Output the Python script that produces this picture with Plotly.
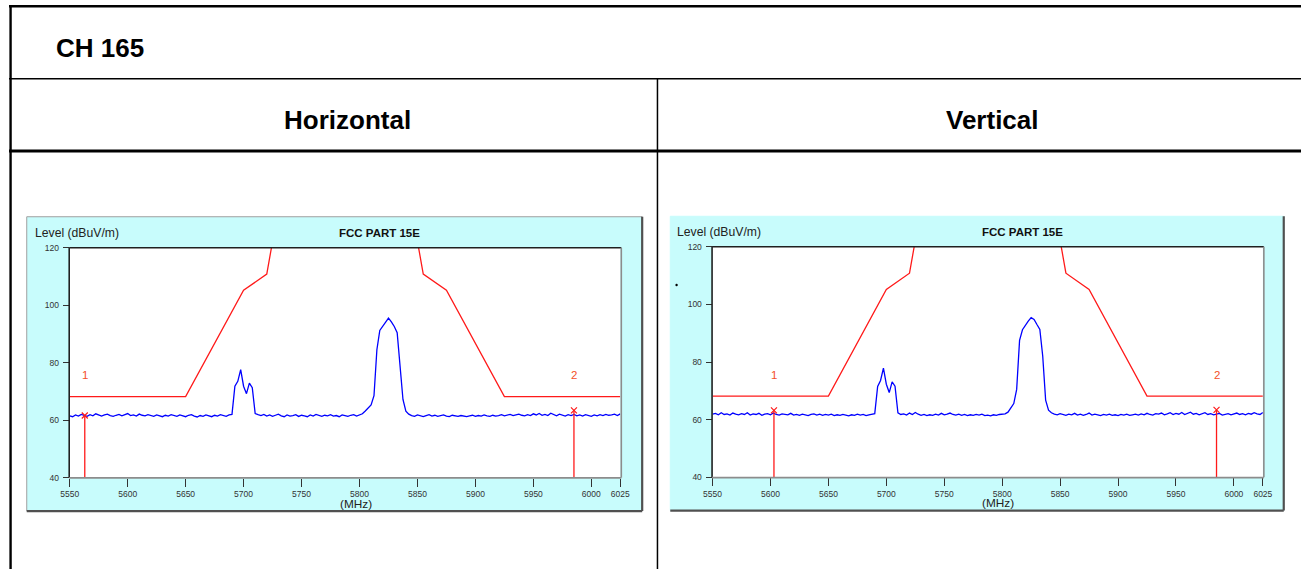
import plotly.graph_objects as go

W, H = 1311, 574

# ---------------- data ----------------
freqs = [5550 + 2.5 * i for i in range(191)]  # MHz grid of the sweep

h_level = [
    # 5550 - 5687.5
    61.5, 61.2, 61.8, 61.4, 62.0, 61.6, 61.3, 61.9, 61.5, 62.2, 61.7, 61.4, 61.8, 62.1, 61.6, 61.3, 61.7, 62.0, 61.5, 61.9,
    62.3, 61.6, 61.8, 61.4, 62.1, 61.7, 61.5, 61.9, 61.6, 61.3, 61.8, 61.5, 61.2, 61.7, 61.4, 61.9, 61.6, 61.3, 61.8, 61.5,
    61.2, 61.7, 61.9, 61.4, 61.1, 61.6, 61.3, 61.8, 61.5, 61.2, 61.7, 61.4, 61.9, 61.6, 61.3, 61.8,
    # 5690 - 5712.5
    62.0, 71.8, 73.5, 77.6, 71.8, 69.2, 72.9, 71.3, 62.3, 61.9,
    # 5715 - 5800
    61.6, 62.0, 61.4, 61.8, 61.3, 61.7, 62.1, 61.5, 61.2, 61.8, 61.4, 61.6, 61.9, 61.3, 61.7, 61.5, 61.2, 61.8, 61.4, 62.0,
    61.6, 61.3, 61.7, 61.5, 61.9, 61.4, 61.6, 61.2, 61.8, 61.5, 61.3, 61.7, 61.9, 61.4, 61.8,
    # 5802.5 - 5845
    62.2, 63.2, 64.2, 65.3, 68.5, 84.5, 91.2, 92.6, 94.4, 95.5, 94.2, 92.6, 90.4, 77.5, 67.2, 63.1, 62.1, 61.6,
    # 5847.5 - 6025
    61.3, 61.8, 61.5, 61.2, 61.6, 61.9, 61.4, 61.7, 61.3, 61.5, 61.8, 61.4, 61.2, 61.7, 61.5, 61.3, 61.6, 61.4, 61.2, 61.5,
    61.7, 61.3, 61.6, 61.4, 61.8, 61.5, 61.3, 61.7, 61.4, 61.6, 61.9, 61.5, 61.7, 62.0, 61.6, 61.8, 62.1, 61.7, 61.5, 61.9,
    61.6, 62.2, 61.8, 62.3, 61.7, 62.0, 61.6, 62.4, 61.9, 61.5, 62.1, 61.7, 61.4, 61.9, 61.6, 62.0, 61.5, 61.8, 61.4, 61.9,
    61.6, 61.3, 61.8, 61.5, 61.9, 61.6, 62.0, 61.7, 61.8, 62.1, 61.6, 62.2,
]

v_level = [
    # 5550 - 5687.5
    61.9, 62.2, 61.7, 62.4, 61.8, 62.0, 61.6, 62.3, 61.9, 61.7, 62.1, 61.8, 62.4, 61.6, 62.0, 61.8, 62.2, 61.5, 61.9, 62.1,
    61.7, 62.3, 61.8, 61.6, 62.0, 61.9, 61.7, 62.2, 61.6, 61.8, 61.5, 61.9, 61.7, 61.4, 61.8, 62.0, 61.6, 61.9, 61.5, 61.8,
    61.6, 61.9, 61.4, 61.7, 61.5, 61.8, 61.6, 61.3, 61.7, 61.5, 61.9, 61.6, 61.8, 61.4, 61.7, 62.0,
    # 5690 - 5712.5
    62.1, 71.5, 73.6, 77.9, 72.3, 69.4, 73.1, 71.6, 62.4, 61.8,
    # 5715 - 5800
    62.0, 61.6, 62.3, 61.8, 62.5, 61.9, 61.5, 61.8, 61.4, 61.7, 61.5, 61.9, 61.6, 62.2, 61.7, 61.9, 62.3, 61.8, 61.6, 61.9,
    61.5, 61.8, 61.4, 61.7, 61.5, 61.8, 61.6, 61.9, 61.4, 61.6, 61.3, 61.7, 61.5, 61.8, 62.0,
    # 5802.5 - 5845
    62.0, 62.6, 64.2, 65.6, 70.5, 87.5, 91.2, 92.8, 94.2, 95.4, 94.8, 93.0, 91.3, 82.0, 66.8, 63.3, 62.4, 61.9,
    # 5847.5 - 6025
    61.7, 62.1, 61.8, 61.5, 61.9, 61.7, 62.2, 61.6, 61.9, 61.5, 61.8, 62.3, 61.6, 61.9, 61.7, 61.4, 61.8, 61.6, 61.9, 61.5,
    61.7, 61.4, 61.8, 61.6, 61.9, 61.5, 61.7, 61.9, 61.6, 62.0, 61.7, 62.2, 61.8, 61.6, 62.1, 61.9, 62.3, 61.7, 62.0, 62.4,
    61.8, 62.2, 61.9, 62.5, 61.8, 62.1, 62.6, 61.9, 62.2, 61.7, 62.0, 62.4, 61.8, 62.1, 61.7, 61.9, 62.2, 61.6, 61.9, 62.1,
    61.7, 62.0, 62.3, 61.8, 62.1, 61.7, 62.2, 61.9, 62.4, 62.0, 61.8, 62.5,
]

limit_freq = [5550, 5650, 5700, 5720, 5725, 5850, 5855, 5875, 5925, 6025]
limit_level = [68.2, 68.2, 105.2, 110.8, 122.2, 122.2, 110.8, 105.2, 68.2, 68.2]

marker_names = ["1", "2"]
h_marker_freq = [5563, 5985]
h_marker_level = [61.6, 63.4]
v_marker_freq = [5603, 5985]
v_marker_level = [63.2, 63.4]

x_ticks = [5550, 5600, 5650, 5700, 5750, 5800, 5850, 5900, 5950, 6000, 6025]
y_ticks = [40, 60, 80, 100, 120]

header_text = "CH 165"
column_titles = ["Horizontal", "Vertical"]
chart_title = "FCC PART 15E"
y_title = "Level (dBuV/m)"
x_title = "(MHz)"

# ---------------- layout helpers ----------------
def px(x):
    return x / W


def py(y):
    return 1 - y / H


BLUE = "#0000FF"
RED = "#FF1A1A"
LABEL_RED = "#F4502A"
CYAN = "#C8FCFC"
FONT = "Arial, Liberation Sans, sans-serif"

panels = [
    dict(panel=(18, 215.5, 642.5, 515), plot=(61.6, 247, 620.3, 481),
         ytitle=(24.3, 231.7), title=(376, 232.3), xtitle=(352.5, 508), outline=True),
    dict(panel=(671, 215, 1293.5, 514.5), plot=(713.9, 246, 1272.3, 480.7),
         ytitle=(676, 230.7), title=(1028, 231), xtitle=(1004, 506.7), outline=False),
]

series = [
    (h_level, h_marker_freq, h_marker_level),
    (v_level, v_marker_freq, v_marker_level),
]

fig = go.Figure()
shapes = []
annotations = []


def line(x0, y0, x1, y1, color="black", width=1.5, layer="above"):
    shapes.append(dict(type="line", xref="paper", yref="paper",
                       x0=px(x0), y0=py(y0), x1=px(x1), y1=py(y1),
                       line=dict(color=color, width=width), layer=layer))


# ----- table grid -----
line(0, 1.2, W, 1.2, width=2.4)
line(1.6, 0, 1.6, H, width=2.4)
line(0, 75, W, 75, width=1.5)
line(0, 148.5, W, 148.5, width=3)
line(658, 75, 658, H, width=1.5)

annotations.append(dict(text="<b>%s</b>" % header_text, xref="paper", yref="paper",
                        x=px(46), y=py(44), xanchor="left", yanchor="middle", showarrow=False,
                        font=dict(family=FONT, size=26, color="black")))
for txt, cx in zip(column_titles, [343.5, 997.5]):
    annotations.append(dict(text="<b>%s</b>" % txt, xref="paper", yref="paper",
                            x=px(cx), y=py(117), xanchor="center", yanchor="middle", showarrow=False,
                            font=dict(family=FONT, size=26, color="black")))

# ----- panels -----
for k, (p, (lev, mf, ml)) in enumerate(zip(panels, series)):
    xa = "x" if k == 0 else "x2"
    ya = "y" if k == 0 else "y2"
    x0, y0, x1, y1 = p["panel"]
    shapes.append(dict(type="rect", xref="paper", yref="paper",
                       x0=px(x0), y0=py(y1), x1=px(x1), y1=py(y0),
                       fillcolor=CYAN,
                       line=dict(color="#A0A0A0" if p["outline"] else CYAN, width=1),
                       layer="below"))
    line(x1, y0, x1, y1, color="#505050", width=2.2, layer="below")
    line(x0, y1, x1, y1, color="#505050", width=2.2, layer="below")

    a0, b0, a1, b1 = p["plot"]
    shapes.append(dict(type="rect", xref="paper", yref="paper",
                       x0=px(a0), y0=py(b1), x1=px(a1), y1=py(b0),
                       fillcolor="white", line=dict(width=0), layer="below"))
    line(a0 - 0.5, b0, a1 + 1, b0, color="#202020", width=1.6)
    line(a0 - 0.5, b0, a0 - 0.5, b1, color="#202020", width=1.6)
    line(a1 + 1, b0, a1 + 1, b1, color="#8C8C8C", width=1.6)
    line(a0 - 0.5, b1 + 0.3, a1 + 1, b1 + 0.3, color="#8C8C8C", width=1.6)

    fig.add_trace(go.Scatter(x=limit_freq, y=limit_level, mode="lines",
                             line=dict(color=RED, width=1.3), xaxis=xa, yaxis=ya,
                             hoverinfo="skip"))
    fig.add_trace(go.Scatter(x=freqs, y=lev, mode="lines",
                             line=dict(color=BLUE, width=1.3), xaxis=xa, yaxis=ya))
    for name, f, lv in zip(marker_names, mf, ml):
        fig.add_trace(go.Scatter(x=[f, f], y=[40, lv], mode="lines",
                                 line=dict(color=RED, width=1.3), xaxis=xa, yaxis=ya))
        fig.add_trace(go.Scatter(x=[f], y=[lv], mode="markers",
                                 marker=dict(symbol="x-thin", size=6,
                                             line=dict(color=RED, width=1.2)),
                                 xaxis=xa, yaxis=ya))
        annotations.append(dict(text=name, x=f, y=75.6, xref=xa, yref=ya, showarrow=False,
                                xanchor="center", yanchor="middle",
                                font=dict(family=FONT, size=11.5, color=LABEL_RED)))

    tx, ty = p["ytitle"]
    annotations.append(dict(text=y_title, xref="paper", yref="paper", x=px(tx), y=py(ty),
                            xanchor="left", yanchor="middle", showarrow=False,
                            font=dict(family=FONT, size=12.2, color="#222")))
    tx, ty = p["title"]
    annotations.append(dict(text="<b>%s</b>" % chart_title, xref="paper", yref="paper",
                            x=px(tx), y=py(ty), xanchor="center", yanchor="middle", showarrow=False,
                            font=dict(family=FONT, size=11.5, color="#111")))
    tx, ty = p["xtitle"]
    annotations.append(dict(text=x_title, xref="paper", yref="paper", x=px(tx), y=py(ty),
                            xanchor="center", yanchor="middle", showarrow=False,
                            font=dict(family=FONT, size=11.8, color="#222")))

shapes.append(dict(type="circle", xref="paper", yref="paper",
                   x0=px(676.2), x1=px(678.6), y0=py(286.2), y1=py(283.8),
                   fillcolor="black", line=dict(width=0)))

axis_common = dict(showgrid=False, zeroline=False, showline=False,
                   ticks="outside", tickcolor="#333", tickwidth=1.2,
                   tickfont=dict(family=FONT, size=8.5, color="#333"))

layout_axes = {}
for k, p in enumerate(panels):
    a0, b0, a1, b1 = p["plot"]
    sx = "" if k == 0 else "2"
    layout_axes["xaxis" + sx] = dict(axis_common, domain=[px(a0), px(a1)], range=[5550, 6025],
                                     tickvals=x_ticks, ticktext=[str(t) for t in x_ticks],
                                     ticklen=8, anchor="y" + sx, fixedrange=True)
    layout_axes["yaxis" + sx] = dict(axis_common, domain=[py(b1), py(b0)], range=[40, 120],
                                     tickvals=y_ticks, ticklen=6, ticklabelstandoff=2,
                                     anchor="x" + sx, fixedrange=True)

fig.update_layout(
    width=W, height=H, autosize=False,
    margin=dict(l=0, r=0, t=0, b=0, pad=0),
    paper_bgcolor="white", plot_bgcolor="white",
    showlegend=False,
    shapes=shapes, annotations=annotations,
    **layout_axes,
)

fig.write_html("out.html", config=dict(displayModeBar=False))
